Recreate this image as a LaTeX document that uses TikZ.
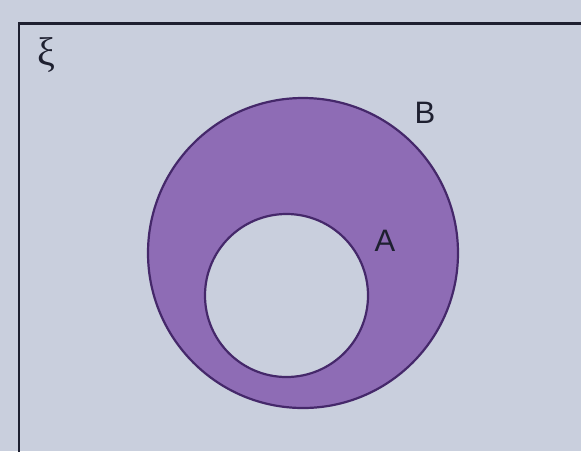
\documentclass[tikz,border=0pt]{standalone}
\usepackage{fontspec}
\newfontfamily\labfont{Liberation Sans}
\newfontfamily\greekfont{Liberation Serif}
\definecolor{paper}{HTML}{C9CFDD}
\definecolor{shade}{HTML}{8E6CB5}
\definecolor{edge}{HTML}{45286A}
\definecolor{ink}{HTML}{1E2030}
\tikzset{
  setline/.style={draw=edge, line width=2.2pt},
  setlabel/.style={text=ink, font=\labfont\fontsize{31}{31}\selectfont, inner sep=0pt},
}
\begin{document}
\begin{tikzpicture}[x=1pt,y=-1pt]
\fill[paper] (0,0) rectangle (581,451);
\useasboundingbox (0,0) rectangle (581,451);
% universal set frame
\draw[ink, line width=2.5pt] (19,460) -- (19,23.5) -- (590,23.5);
\node[text=ink, font=\greekfont\fontsize{40}{40}\selectfont, inner sep=0pt] (xi) at (46,55) {ξ};
% set B
\node[circle, setline, fill=shade, minimum size=310, inner sep=0pt] (B) at (303,253) {};
% set A
\node[circle, setline, fill=paper, minimum size=163, inner sep=0pt] (A) at (286.5,295.5) {};
\node[setlabel] (lB) at (425,113) {B};
\node[setlabel] (lA) at (385,241) {A};
\end{tikzpicture}
\end{document}
